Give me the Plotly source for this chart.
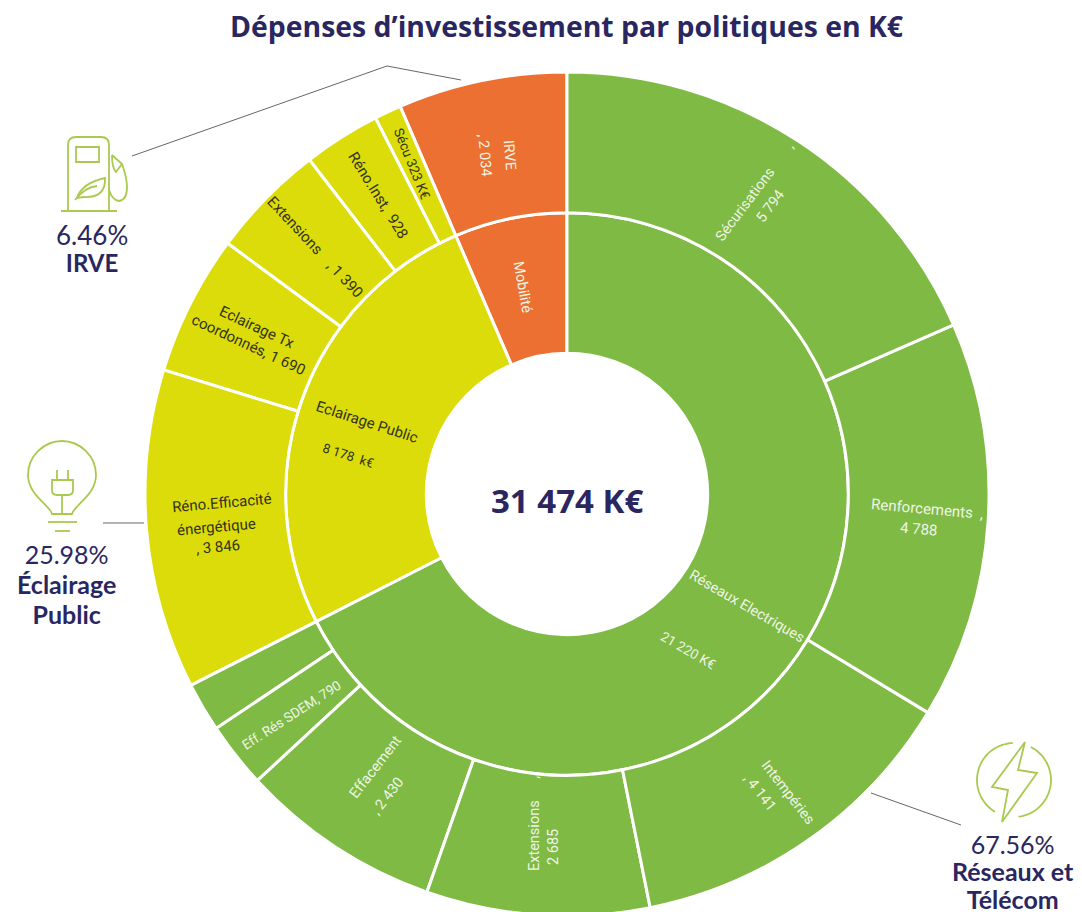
import math
import re
import plotly.graph_objects as go

# ---- data ----
ROOT = "Total"
group_ids = ["Réseaux Electriques", "Eclairage Public", "Mobilité"]
group_values = [21220, 8178, 2034]
reseaux_labels = ["Sécurisations", "Renforcements", "Intempéries", "Extensions", "Effacement", "Eff. Rés SDEM", "Autres"]
reseaux_values = [5794, 4788, 4141, 2685, 2430, 790, 592]
eclairage_labels = ["Réno.Efficacité énergétique", "Eclairage Tx coordonnés", "Extensions", "Réno.Inst", "Sécu"]
eclairage_values = [3846, 1690, 1390, 928, 323]
mobilite_labels = ["IRVE"]
mobilite_values = [2034]

title_text = "Dépenses d’investissement par politiques en K€"
center_text = "31 474 K€"

# ---- style ----
GREEN = "#7fba45"
YELLOW = "#dcdc0a"
ORANGE = "#ec7031"
NAVY = "#2a2660"
ICON = "#a9c94f"
LIGHT = "#eef5e4"
DARK = "#33331a"
W, H = 1082, 916
CX, CY, R = 567, 494, 422

# Plotly lays sectors out counter-clockwise, the chart reads clockwise: feed them reversed.
ids = [ROOT] + group_ids[::-1]
labels = [""] + group_ids[::-1]
parents = [""] + [ROOT] * 3
values = [sum(group_values)] + group_values[::-1]
colors = ["#ffffff", ORANGE, YELLOW, GREEN]
for grp, labs, vals, col in [
    (group_ids[2], mobilite_labels, mobilite_values, ORANGE),
    (group_ids[1], eclairage_labels, eclairage_values, YELLOW),
    (group_ids[0], reseaux_labels, reseaux_values, GREEN),
]:
    for l, v in zip(labs[::-1], vals[::-1]):
        ids.append(grp + "/" + l)
        labels.append(l)
        parents.append(grp)
        values.append(v)
        colors.append(col)

fig = go.Figure(go.Sunburst(
    ids=ids, labels=labels, parents=parents, values=values,
    branchvalues="total", sort=False, rotation=90, textinfo="none",
    marker=dict(colors=colors, line=dict(color="white", width=3)),
    leaf=dict(opacity=1),
    hoverinfo="label+value",
    domain=dict(x=[(CX - R) / W, (CX + R) / W], y=[1 - (CY + R) / H, 1 - (CY - R) / H]),
))


def px(x):
    return x / W


def py(y):
    return 1 - y / H


def note(text, x, y, angle=0, size=14.5, color=LIGHT, family="Roboto", align="center"):
    return dict(text=text, x=px(x), y=py(y), xref="paper", yref="paper", showarrow=False,
                textangle=angle, xanchor="center", yanchor="middle", align=align,
                font=dict(family=family, size=size, color=color))


def stacked(pct, names, pct_size, name_size):
    """Percentage on the first line, bold names under it, one text block."""
    lines = [f'<span style="font-size:{pct_size}px">{pct}</span>']
    lines += [f'<span style="font-size:{name_size}px"><b>{n}</b></span>' for n in names]
    return "<br>".join(lines)


anns = [
    note("<b>" + title_text + "</b>", 567, 26, size=28.4, color=NAVY, family="Open Sans"),
    note("<b>" + center_text + "</b>", 567, 500, size=33, color=NAVY, family="Open Sans"),
    note("Sécurisations        ,", 754, 192, -53),
    note("5 794", 770, 206, -53),
    note("Renforcements  ,", 927, 509, 5, size=15),
    note("4 788", 918, 529, 5, size=15),
    note(", 4 141", 760, 792, 52),
    note("Intempéries", 788, 792, 52),
    note("Extensions      ,", 534, 824, -90),
    note("2 685", 553, 847, -90),
    note("Effacement", 375, 767, -52),
    note(", 2 430", 387, 796, -52),
    note("Eff. Rés SDEM, 790", 291, 715, -33, size=13.5),
    note("Réno.Efficacité", 222, 503, -5, size=15, color=DARK),
    note("énergétique", 216, 527, -5, size=15, color=DARK),
    note(", 3 846", 218, 547, -5, size=15, color=DARK),
    note("Eclairage Tx<br>coordonnés, 1 690", 252, 336, 25, size=15, color=DARK),
    note("Extensions    , 1 390", 315, 247, 47, size=15, color=DARK),
    note("Réno.Inst,  928", 378, 195, 58, size=15, color=DARK),
    note("Sécu 323 K€", 412, 163, 68, size=13.5, color=DARK),
    note("IRVE", 509, 155, 85),
    note(", 2 034", 484, 155, 85),
    note("Mobilité", 523, 287, 80),
    note("Eclairage Public", 367, 422, 18, size=15, color=DARK),
    note("8 178  k€", 348, 455, 18, size=13, color=DARK),
    note("Réseaux Electriques", 747, 606, 30),
    note("21 220 K€", 688, 650, 30, size=13.5),
    note(stacked("6.46%", ["IRVE"], 26, 24), 92, 248, size=21, color=NAVY, family="Lato"),
    note(stacked("25.98%", ["Éclairage", "Public"], 25, 25), 66, 584, size=23, color=NAVY, family="Lato"),
    note(stacked("67.56%", ["Réseaux et", "Télécom"], 25, 25), 1013, 871, size=21, color=NAVY, family="Lato"),
]


def to_paper(path):
    """Convert an SVG path written in page pixels to paper coordinates."""
    toks = re.findall(r"[A-Za-z]|-?[\d.]+", path)
    out, is_x = [], True
    for t in toks:
        if t.isalpha():
            out.append(t)
            is_x = True
        else:
            out.append(f"{px(float(t)):.5f}" if is_x else f"{py(float(t)):.5f}")
            is_x = not is_x
    return " ".join(out)


def arc(cx, cy, r, a0, a1, n=40):
    pts = []
    for i in range(n + 1):
        a = math.radians(a0 + (a1 - a0) * i / n)
        pts.append(("M" if i == 0 else "L") + f" {cx + r * math.cos(a):.1f} {cy + r * math.sin(a):.1f}")
    return " ".join(pts)


icon_paths = [
    # fuel pump
    "M 68 211 L 68 145 Q 68 137 76 137 L 101 137 Q 109 137 109 145 L 109 211",
    "M 61 211 L 117 211",
    "M 76 147 L 99 147 L 99 162 L 76 162 Z",
    "M 112 155 L 122 164 Q 127 178 127 187 Q 127 200 119 201 Q 112 200 109 190",
    "M 112 155 Q 112 168 116 172 L 122 164",
    "M 77 198 Q 82 183 105 178 Q 106 198 84 197 Z",
    "M 75 200 Q 85 187 97 186",
    # light bulb
    "M 52 514 C 50 505 28 495 28 475 C 28 456 44 441 62 441 C 80 441 96 456 96 475 C 96 495 74 505 72 514 Z",
    "M 48 522 L 77 522",
    "M 55 531 L 70 531",
    "M 52 480 L 73 480 L 73 490 Q 73 495 68 495 L 57 495 Q 52 495 52 490 Z",
    "M 57 470 L 57 480",
    "M 68 470 L 68 480",
    "M 62 495 L 62 514",
    # lightning bolt
    "M 1025 742 L 992 787 L 1008 790 L 1002 822 L 1037 773 L 1018 770 Z",
    arc(1014, 780, 37, -63, 83),
    arc(1014, 780, 37, 121, 268),
]
connector_paths = [
    "M 132 156 L 387 66 L 461 80",
    "M 103 523 L 144 523",
    "M 871 793 L 961 825",
]
shapes = [dict(type="path", xref="paper", yref="paper", path=to_paper(p),
               line=dict(color=ICON, width=1.8)) for p in icon_paths]
shapes += [dict(type="path", xref="paper", yref="paper", path=to_paper(p),
                line=dict(color="#666666", width=1)) for p in connector_paths]

fig.update_layout(width=W, height=H, margin=dict(l=0, r=0, t=0, b=0),
                  paper_bgcolor="white", annotations=anns, shapes=shapes, showlegend=False)
fig.write_html("out.html", config=dict(displayModeBar=False),
               post_script="document.body.style.margin='0';document.body.style.overflow='hidden';"
                           "document.documentElement.style.overflow='hidden';")
